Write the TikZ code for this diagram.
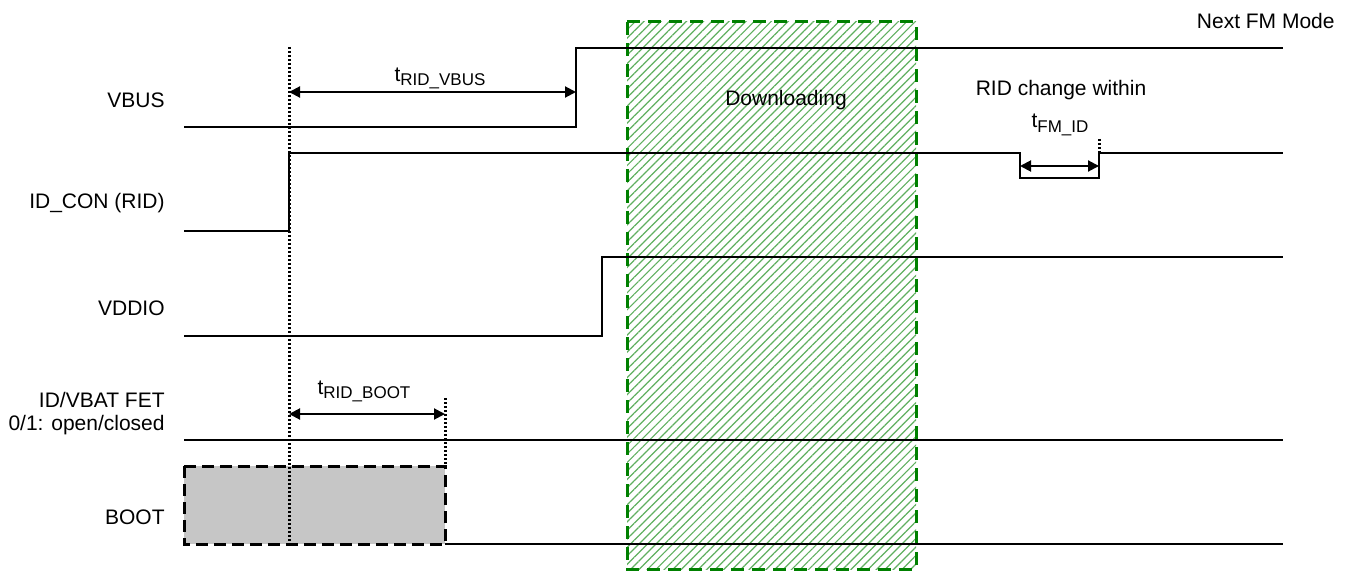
\documentclass[tikz,border=0pt]{standalone}
\usepackage{fontspec}
\setmainfont{Liberation Sans}
\usetikzlibrary{arrows.meta,patterns.meta}
\definecolor{hatchgreen}{RGB}{95,175,95}
\definecolor{boxgreen}{RGB}{0,128,0}
\newcommand\tsub[1]{t\raisebox{-2pt}{\fontsize{8.5}{9}\selectfont #1}}
\begin{document}
\begin{tikzpicture}[x=0.5pt,y=-0.5pt,
  font=\fontsize{10.5}{12.6}\selectfont,
  sig/.style={line width=1pt,line join=miter},
  dotline/.style={line width=1.5pt,dash pattern=on 1.1pt off 0.9pt},
  dim/.style={line width=1pt,{Triangle[length=5.5pt,width=5.5pt]}-{Triangle[length=5.5pt,width=5.5pt]}},
  lbl/.style={anchor=east,inner sep=0pt},
  tlbl/.style={anchor=base,inner sep=0pt}]
\useasboundingbox (0,0) rectangle (1352,572);
% downloading window
\path[pattern={Lines[angle=45,distance=3pt,line width=0.6pt]},pattern color=hatchgreen] (627,22) rectangle (916,569);
\draw[line width=1.5pt,draw=boxgreen,dash pattern=on 6.5pt off 4pt] (627,22) rectangle (916,569);
% boot box
\draw[fill=gray!45,line width=1.5pt,dash pattern=on 6pt off 3pt] (184,466) rectangle (445,544);
% signals
\draw[sig] (184,127) -- (576,127) -- (576,48) -- (1283,48);
\draw[sig] (184,231) -- (289,231) -- (289,153) -- (1020,153) -- (1020,178) -- (1099,178) -- (1099,153) -- (1283,153);
\draw[sig] (184,336) -- (602,336) -- (602,257) -- (1283,257);
\draw[sig] (184,440) -- (1283,440);
\draw[sig] (445,544) -- (1283,544);
% dotted markers
\coordinate (m1t) at (289,47); \coordinate (m1b) at (289,544);
\coordinate (m2t) at (445,398); \coordinate (m2b) at (445,466);
\coordinate (m3t) at (1099,139); \coordinate (m3b) at (1099,153);
\draw[dotline] (m1t) -- (m1b);
\draw[dotline] (m2t) -- (m2b);
\draw[dotline] (m3t) -- (m3b);
% dimension arrows
\coordinate (a1) at (289,92); \coordinate (b1) at (576,92);
\coordinate (a2) at (289,414); \coordinate (b2) at (445,414);
\coordinate (a3) at (1020,166); \coordinate (b3) at (1099,166);
\draw[dim] (a1) -- (b1);
\draw[dim] (a2) -- (b2);
\draw[dim] (a3) -- (b3);
% labels
\node[lbl] (lvbus) at (165,100) {VBUS};
\node[lbl] (lid) at (165,203) {ID\_CON (RID)};
\node[lbl] (lvdd) at (165,308) {VDDIO};
\node[lbl] (lfet) at (165,400) {ID/VBAT FET};
\node[lbl] (lfet2) at (165,425) {0/1: open/closed};
\node[lbl] (lboot) at (165,517) {BOOT};
\node[tlbl] (tv) at (440,82) {\tsub{RID\_VBUS}};
\node[tlbl] (tb) at (364,394) {\tsub{RID\_BOOT}};
\node[tlbl] (tf) at (1060,128) {\tsub{FM\_ID}};
\node[inner sep=0pt] (rid) at (1061,90) {RID change within};
\node[inner sep=0pt] (dl) at (786,100) {Downloading};
\node[anchor=east,inner sep=0pt] (nfm) at (1335,21) {Next FM Mode};
\end{tikzpicture}
\end{document}
